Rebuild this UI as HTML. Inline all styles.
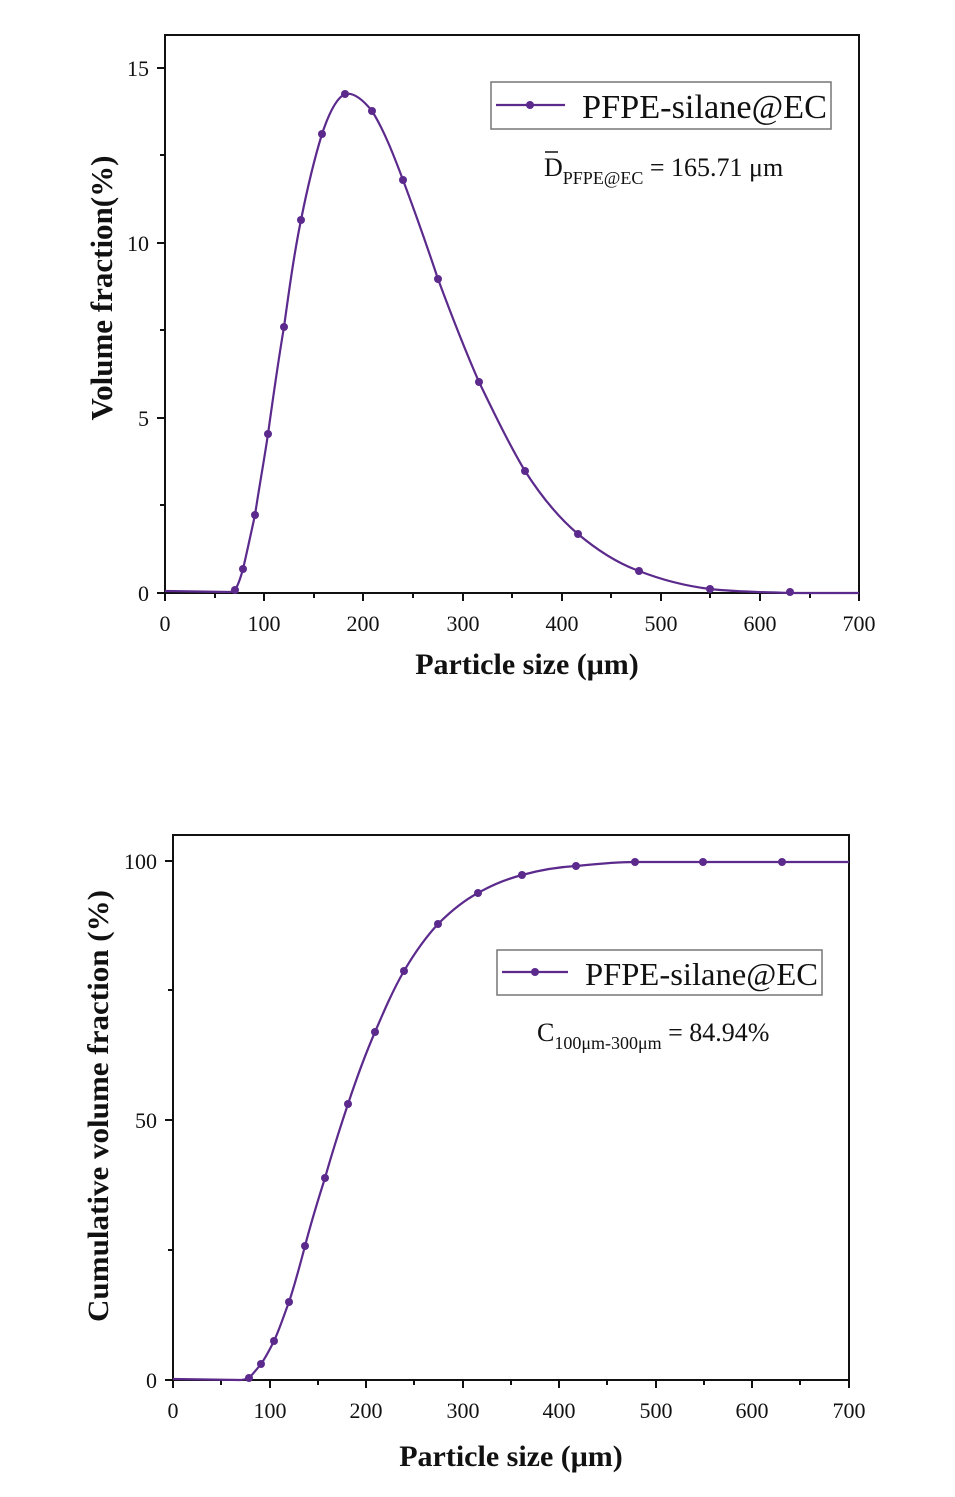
<!DOCTYPE html>
<html><head><meta charset="utf-8"><style>body{margin:0;background:#fff}svg{display:block}text{font-family:"Liberation Serif",serif;fill:#111}</style></head>
<body>
<svg width="955" height="1497" viewBox="0 0 955 1497" xmlns="http://www.w3.org/2000/svg">
<!-- TOP CHART -->
<rect x="165" y="35" width="694" height="558" fill="none" stroke="#111" stroke-width="2"/>
<g stroke="#111" stroke-width="2">
<line x1="165" y1="593" x2="165" y2="601"/><line x1="264" y1="593" x2="264" y2="601"/><line x1="363" y1="593" x2="363" y2="601"/><line x1="463" y1="593" x2="463" y2="601"/><line x1="562" y1="593" x2="562" y2="601"/><line x1="661" y1="593" x2="661" y2="601"/><line x1="760" y1="593" x2="760" y2="601"/><line x1="859" y1="593" x2="859" y2="601"/>
<line x1="215" y1="593" x2="215" y2="598"/><line x1="314" y1="593" x2="314" y2="598"/><line x1="413" y1="593" x2="413" y2="598"/><line x1="512" y1="593" x2="512" y2="598"/><line x1="611" y1="593" x2="611" y2="598"/><line x1="710" y1="593" x2="710" y2="598"/><line x1="810" y1="593" x2="810" y2="598"/>
<line x1="157" y1="593" x2="165" y2="593"/><line x1="157" y1="418" x2="165" y2="418"/><line x1="157" y1="243" x2="165" y2="243"/><line x1="157" y1="68" x2="165" y2="68"/>
<line x1="160" y1="505" x2="165" y2="505"/><line x1="160" y1="330" x2="165" y2="330"/><line x1="160" y1="155" x2="165" y2="155"/>
</g>
<g font-size="22" text-anchor="middle">
<text x="165" y="631">0</text><text x="264" y="631">100</text><text x="363" y="631">200</text><text x="463" y="631">300</text><text x="562" y="631">400</text><text x="661" y="631">500</text><text x="760" y="631">600</text><text x="859" y="631">700</text>
</g>
<g font-size="22" text-anchor="end">
<text x="149" y="601">0</text><text x="149" y="426">5</text><text x="149" y="251">10</text><text x="149" y="76">15</text>
</g>
<text x="527" y="674" font-size="30" font-weight="bold" text-anchor="middle">Particle size (μm)</text>
<text transform="translate(112,288) rotate(-90)" font-size="31" font-weight="bold" text-anchor="middle">Volume fraction(%)</text>
<path d="M165,591 L230,592 C233,591 234,591 235,590 C239,584 241,576 243,569 C247,552 251,533 255,515 C259,488 264,461 268,434 C273,398 278,362 284,327 C289,291 294,254 301,220 C307,190 314,160 322,134 C328,116 336,98 345,94 C354,92 364,101 372,111 C384,130 394,156 403,180 C415,212 427,246 438,279 C451,314 465,350 479,382 C494,413 509,444 525,471 C541,496 559,518 578,534 C597,550 617,563 639,571 C662,580 686,586 710,589 C737,592 763,592 790,593 L859,593" fill="none" stroke="#5b2a8c" stroke-width="2.2" stroke-linejoin="round"/>
<g fill="#5b2a8c">
<circle cx="235" cy="590" r="4"/><circle cx="243" cy="569" r="4"/><circle cx="255" cy="515" r="4"/><circle cx="268" cy="434" r="4"/><circle cx="284" cy="327" r="4"/><circle cx="301" cy="220" r="4"/><circle cx="322" cy="134" r="4"/><circle cx="345" cy="94" r="4"/><circle cx="372" cy="111" r="4"/><circle cx="403" cy="180" r="4"/><circle cx="438" cy="279" r="4"/><circle cx="479" cy="382" r="4"/><circle cx="525" cy="471" r="4"/><circle cx="578" cy="534" r="4"/><circle cx="639" cy="571" r="4"/><circle cx="710" cy="589" r="4"/><circle cx="790" cy="592" r="4"/>
</g>
<rect x="491" y="82" width="340" height="47" fill="#fff" stroke="#777" stroke-width="1.5"/>
<line x1="496" y1="105" x2="565" y2="105" stroke="#5b2a8c" stroke-width="2.2"/><circle cx="530" cy="105" r="4" fill="#5b2a8c"/>
<text x="582" y="118" font-size="34" textLength="245" lengthAdjust="spacingAndGlyphs">PFPE-silane@EC</text>
<text x="544" y="176" font-size="26">D<tspan font-size="18" dy="8">PFPE@EC</tspan><tspan dy="-8"> = 165.71 μm</tspan></text>
<line x1="545" y1="152" x2="558" y2="152" stroke="#111" stroke-width="1.5"/>

<!-- BOTTOM CHART -->
<rect x="173" y="835" width="676" height="545" fill="none" stroke="#111" stroke-width="2"/>
<g stroke="#111" stroke-width="2">
<line x1="173" y1="1380" x2="173" y2="1388"/><line x1="270" y1="1380" x2="270" y2="1388"/><line x1="366" y1="1380" x2="366" y2="1388"/><line x1="463" y1="1380" x2="463" y2="1388"/><line x1="559" y1="1380" x2="559" y2="1388"/><line x1="656" y1="1380" x2="656" y2="1388"/><line x1="752" y1="1380" x2="752" y2="1388"/><line x1="849" y1="1380" x2="849" y2="1388"/>
<line x1="221" y1="1380" x2="221" y2="1385"/><line x1="318" y1="1380" x2="318" y2="1385"/><line x1="414" y1="1380" x2="414" y2="1385"/><line x1="511" y1="1380" x2="511" y2="1385"/><line x1="607" y1="1380" x2="607" y2="1385"/><line x1="704" y1="1380" x2="704" y2="1385"/><line x1="800" y1="1380" x2="800" y2="1385"/>
<line x1="165" y1="1380" x2="173" y2="1380"/><line x1="165" y1="1120" x2="173" y2="1120"/><line x1="165" y1="861" x2="173" y2="861"/>
<line x1="168" y1="1250" x2="173" y2="1250"/><line x1="168" y1="990" x2="173" y2="990"/>
</g>
<g font-size="22" text-anchor="middle">
<text x="173" y="1418">0</text><text x="270" y="1418">100</text><text x="366" y="1418">200</text><text x="463" y="1418">300</text><text x="559" y="1418">400</text><text x="656" y="1418">500</text><text x="752" y="1418">600</text><text x="849" y="1418">700</text>
</g>
<g font-size="22" text-anchor="end">
<text x="157" y="1388">0</text><text x="157" y="1128">50</text><text x="157" y="869">100</text>
</g>
<text x="511" y="1466" font-size="30" font-weight="bold" text-anchor="middle">Particle size (μm)</text>
<text transform="translate(108,1106) rotate(-90)" font-size="30" font-weight="bold" text-anchor="middle" textLength="432" lengthAdjust="spacingAndGlyphs">Cumulative volume fraction (%)</text>
<path d="M173,1379 L240,1380 C243,1380 246,1379 249,1378 C253,1374 257,1369 261,1364 C266,1357 270,1349 274,1341 C280,1328 284,1315 289,1302 C295,1284 300,1265 305,1246 C311,1223 318,1200 325,1178 C332,1153 340,1128 348,1104 C356,1080 365,1055 375,1032 C384,1011 393,990 404,971 C414,954 425,938 438,924 C450,912 463,901 478,893 C492,885 507,879 522,875 C540,870 558,867 576,866 C596,864 615,862 635,862 L849,862" fill="none" stroke="#5b2a8c" stroke-width="2.2" stroke-linejoin="round"/>
<g fill="#5b2a8c">
<circle cx="249" cy="1378" r="4"/><circle cx="261" cy="1364" r="4"/><circle cx="274" cy="1341" r="4"/><circle cx="289" cy="1302" r="4"/><circle cx="305" cy="1246" r="4"/><circle cx="325" cy="1178" r="4"/><circle cx="348" cy="1104" r="4"/><circle cx="375" cy="1032" r="4"/><circle cx="404" cy="971" r="4"/><circle cx="438" cy="924" r="4"/><circle cx="478" cy="893" r="4"/><circle cx="522" cy="875" r="4"/><circle cx="576" cy="866" r="4"/><circle cx="635" cy="862" r="4"/><circle cx="703" cy="862" r="4"/><circle cx="782" cy="862" r="4"/>
</g>
<rect x="497" y="950" width="325" height="45" fill="#fff" stroke="#777" stroke-width="1.5"/>
<line x1="502" y1="972" x2="568" y2="972" stroke="#5b2a8c" stroke-width="2.2"/><circle cx="535" cy="972" r="4" fill="#5b2a8c"/>
<text x="585" y="985" font-size="32" textLength="233" lengthAdjust="spacingAndGlyphs">PFPE-silane@EC</text>
<text x="537" y="1041" font-size="26">C<tspan font-size="18" dy="8">100μm-300μm</tspan><tspan dy="-8"> = 84.94%</tspan></text>
</svg>
</body></html>
